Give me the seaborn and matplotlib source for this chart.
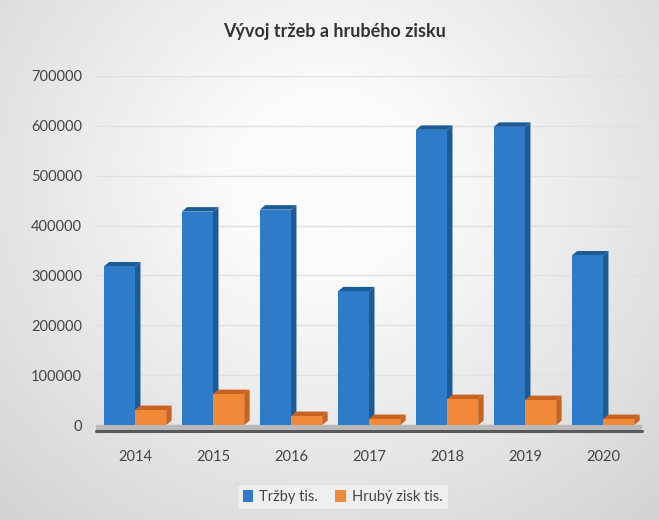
import numpy as np
import pandas as pd
import matplotlib
matplotlib.use("Agg")
import matplotlib.pyplot as plt
from matplotlib.patches import Polygon, Patch
import seaborn as sns

years = ["2014", "2015", "2016", "2017", "2018", "2019", "2020"]
trzby = [318000, 428000, 432000, 268000, 592000, 598000, 340000]
zisk = [30000, 62000, 18000, 12000, 52000, 50000, 12000]
series_names = ["Tržby tis.", "Hrubý zisk tis."]
yticks = [0, 100000, 200000, 300000, 400000, 500000, 600000, 700000]
title = "Vývoj tržeb a hrubého zisku"

blue = "#2e7bca"
orange = "#f08a38"
blue_dark = "#1b5b96"
orange_dark = "#c9631f"

df = pd.DataFrame({
    "Rok": years * 2,
    "Hodnota": trzby + zisk,
    "Série": [series_names[0]] * len(years) + [series_names[1]] * len(years),
})

sns.set_theme(style="white")
plt.rcParams["font.family"] = ["Lato", "DejaVu Sans"]

fig = plt.figure(figsize=(6.59, 5.2), dpi=100)
fig.patch.set_facecolor("#e6e6e6")

# background gradient (decorative)
bg = fig.add_axes([0, 0, 1, 1], zorder=-10)
gy, gx = np.mgrid[0:1:200j, 0:1:260j]
r = np.sqrt(((gx - 0.5) / 0.75) ** 2 + ((gy - 0.35) / 0.9) ** 2)
grad = np.clip(1 - r, 0, 1)
bg.imshow(grad, cmap=matplotlib.colors.LinearSegmentedColormap.from_list("g", ["#d2d2d2", "#fbfbfb"]),
          aspect="auto", extent=[0, 1, 0, 1], vmin=0, vmax=0.8)
bg.axis("off")

ax = fig.add_axes([96 / 659, 1 - 431 / 520, 546 / 659, (431 - 76) / 520])
ax.set_facecolor("none")

sns.barplot(data=df, x="Rok", y="Hodnota", hue="Série", palette=[blue, orange],
            width=0.8, saturation=1, ax=ax, legend=False, zorder=3, linewidth=0)

bars = [p for p in ax.patches]

ax.set_ylim(-12000, 700000)
ax.set_xlim(-0.5, len(years) - 0.5)

# floor
ax.axhspan(-12000, 0, color="#b9b9b9", zorder=1)
ax.axhline(-12000, color="#5a5a5a", lw=2.2, zorder=2, clip_on=False)

# pseudo 3D side and top faces derived from bars
dx = 0.07
dy = 9000
for p in bars:
    x0 = p.get_x()
    w = p.get_width()
    h = p.get_height()
    if h <= 0:
        continue
    fc = p.get_facecolor()
    is_blue = fc[2] > 0.5
    side_c = blue_dark if is_blue else orange_dark
    x1 = x0 + w
    side = Polygon([[x1, 0], [x1 + dx, dy], [x1 + dx, h + dy], [x1, h]], closed=True,
                   facecolor=side_c, edgecolor="none", zorder=2.5)
    top = Polygon([[x0, h], [x0 + dx, h + dy], [x1 + dx, h + dy], [x1, h]], closed=True,
                  facecolor=side_c, edgecolor="none", zorder=2.6)
    ax.add_patch(side)
    ax.add_patch(top)

ax.set_yticks(yticks)
ax.set_yticklabels([str(v) for v in yticks])
ax.yaxis.grid(True, color="#e0e0e0", lw=1, zorder=0)
ax.tick_params(axis="y", labelsize=10.5, labelcolor="#444444", pad=10, length=0)
ax.tick_params(axis="x", labelsize=10.5, labelcolor="#444444", pad=14, length=0)
ax.set_xlabel("")
ax.set_ylabel("")
for s in ax.spines.values():
    s.set_visible(False)

fig.text(0.508, 0.94, title, ha="center", va="center", fontsize=13, fontweight="bold", color="#333333")

handles = [Patch(facecolor=blue, edgecolor="none"), Patch(facecolor=orange, edgecolor="none")]
leg = fig.legend(handles, series_names, loc="center", bbox_to_anchor=(0.52, 0.045), ncol=2,
                 frameon=True, fontsize=10.5, handlelength=0.7, handleheight=0.9, handletextpad=0.4,
                 columnspacing=1.2, borderpad=0.4)
leg.get_frame().set_facecolor("#f3f3f3")
leg.get_frame().set_edgecolor("#dddddd")
for t in leg.get_texts():
    t.set_color("#444444")

fig.savefig("out.png", dpi=100, facecolor=fig.get_facecolor())
